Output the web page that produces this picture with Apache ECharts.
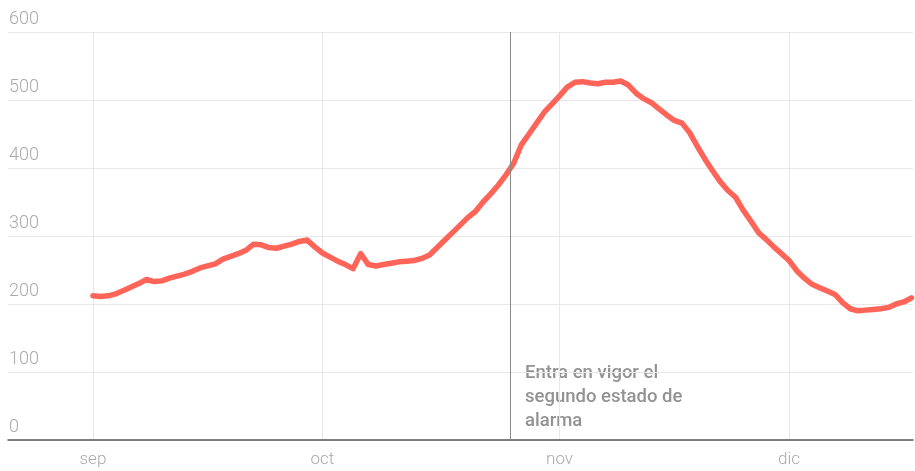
<!DOCTYPE html>
<html>
<head>
<meta charset="utf-8">
<script src="https://cdn.jsdelivr.net/npm/echarts@6/dist/echarts.min.js"></script>
<style>
  html, body { margin: 0; padding: 0; background: #fff; }
  #chart { width: 915px; height: 471px; }
</style>
</head>
<body>
<div id="chart"></div>
<script>
// daily values from 1 Sep (day 0) to 17 Dec (day 107)
const values = [
  212, 211, 212, 215, 220, 225, 230, 236, 233, 234,
  238, 241, 244, 248, 253, 256, 259, 266, 270, 274,
  279, 288, 287, 283, 282, 285, 288, 292, 294, 284,
  275, 269, 263, 258, 252, 274, 258, 256, 258, 260,
  262, 263, 264, 267, 272, 283, 294, 305, 316, 327,
  336, 350, 362, 375, 390, 407, 434, 450, 466, 482,
  494, 506, 519, 526, 527, 525, 524, 526, 526, 528,
  522, 510, 502, 496, 487, 478, 470, 466, 452, 432,
  413, 396, 380, 367, 357, 338, 322, 305, 295, 284,
  274, 264, 249, 238, 229, 224, 219, 214, 202, 193,
  190, 191, 192, 193, 195, 200, 203, 209
]

// month starts (day offsets from 1 Sep) and their labels
const monthDays = [0, 30, 61, 91]
const monthLabels = ['sep', 'oct', 'nov', 'dic']

// second state of alarm, 25 Oct
const eventDay = 54.5
const eventText = 'Entra en vigor el\nsegundo estado de\nalarma'

const chart = echarts.init(document.getElementById('chart'))

const options = {
  animation: false,
  grid: { left: 8, right: 2, top: 32, bottom: 31 },
  xAxis: {
    type: 'value',
    min: -11.1,
    max: 107.2,
    axisLine: { show: true, onZero: false, lineStyle: { color: '#555', width: 1.5 } },
    axisTick: { show: false, customValues: monthDays },
    axisLabel: {
      customValues: monthDays,
      formatter: v => monthLabels[monthDays.indexOf(v)],
      color: '#aaa',
      fontFamily: 'Roboto',
      fontWeight: 300,
      fontSize: 17,
      margin: 11
    },
    splitLine: { show: true, lineStyle: { color: '#e8e8e8', width: 1 } }
  },
  yAxis: {
    type: 'value',
    min: 0,
    max: 600,
    interval: 100,
    axisLine: { show: false },
    axisTick: { show: false },
    axisLabel: {
      inside: true,
      margin: 1,
      verticalAlign: 'bottom',
      lineHeight: 20,
      padding: [0, 0, 3, 0],
      color: '#aaa',
      fontFamily: 'Roboto',
      fontWeight: 300,
      fontSize: 18
    },
    splitLine: { lineStyle: { color: '#e8e8e8', width: 1.2 } }
  },
  series: [
    {
      type: 'line',
      data: values.map((v, i) => [i, v]),
      showSymbol: false,
      lineStyle: { color: '#ff6459', width: 5.5, join: 'round', cap: 'round' },
      z: 3,
      markLine: {
        silent: true,
        symbol: 'none',
        label: { show: false },
        lineStyle: { color: '#888', width: 1, type: 'solid' },
        data: [{ xAxis: eventDay }]
      }
    }
  ],
  graphic: [
    {
      type: 'text',
      left: 525,
      top: 361,
      style: {
        text: eventText,
        fill: '#929292',
        font: '500 18.5px Roboto',
        lineHeight: 24
      }
    }
  ]
}

chart.setOption(options)
</script>
</body>
</html>
